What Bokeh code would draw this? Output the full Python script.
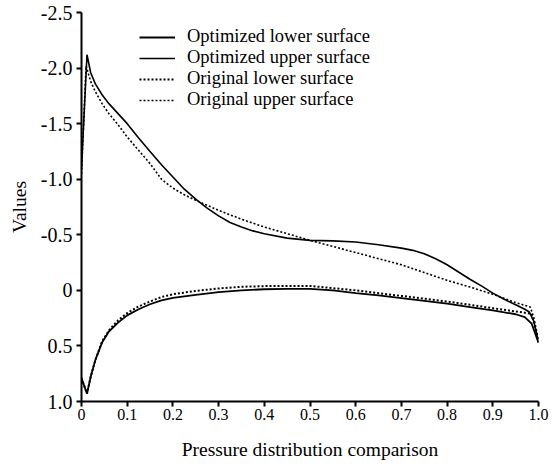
from bokeh.plotting import figure
from bokeh.models import Range1d, FixedTicker, Legend, LegendItem
from bokeh.embed import file_html
from bokeh.resources import INLINE

# Data (x = chord position, v = pressure value; axis inverted)
x_opt_lower = [0, 0.012, 0.02, 0.03, 0.045, 0.06, 0.08, 0.1, 0.125, 0.15, 0.175, 0.2, 0.25, 0.3, 0.35, 0.4, 0.45, 0.5,
               0.55, 0.6, 0.65, 0.7, 0.75, 0.8, 0.85, 0.9, 0.95, 0.97, 0.985, 1.0]
v_opt_lower = [0.79, 0.93, 0.78, 0.63, 0.47, 0.37, 0.29, 0.225, 0.17, 0.125, 0.09, 0.068, 0.04, 0.015, 0.0, -0.01, -0.013, -0.013,
               0.0, 0.025, 0.045, 0.07, 0.095, 0.12, 0.15, 0.18, 0.215, 0.24, 0.3, 0.47]

x_opt_upper = [0, 0.012, 0.02, 0.03, 0.045, 0.06, 0.08, 0.1, 0.125, 0.15, 0.175, 0.2, 0.225, 0.25, 0.275, 0.3, 0.325, 0.35,
               0.375, 0.4, 0.45, 0.5, 0.55, 0.6, 0.65, 0.7, 0.725, 0.75, 0.775, 0.8, 0.825, 0.85, 0.875, 0.9, 0.925, 0.95,
               0.97, 0.98, 0.99, 1.0]
v_opt_upper = [-1.1, -2.12, -1.96, -1.86, -1.76, -1.68, -1.59, -1.50, -1.37, -1.25, -1.13, -1.02, -0.91, -0.82, -0.74, -0.67, -0.61, -0.57,
               -0.535, -0.51, -0.47, -0.45, -0.445, -0.435, -0.41, -0.38, -0.36, -0.33, -0.285, -0.23, -0.165, -0.10, -0.04, 0.025, 0.08, 0.13,
               0.17, 0.195, 0.28, 0.47]

x_orig_lower = [0, 0.012, 0.02, 0.03, 0.045, 0.06, 0.08, 0.1, 0.125, 0.15, 0.175, 0.2, 0.25, 0.3, 0.35, 0.4, 0.45, 0.5,
                0.55, 0.6, 0.65, 0.7, 0.75, 0.8, 0.85, 0.9, 0.95, 0.985, 0.993, 1.0]
v_orig_lower = [0.79, 0.93, 0.78, 0.63, 0.46, 0.36, 0.27, 0.205, 0.145, 0.1, 0.06, 0.035, 0.005, -0.017, -0.032, -0.038, -0.04, -0.04,
                -0.02, 0.0, 0.025, 0.05, 0.075, 0.1, 0.13, 0.16, 0.19, 0.21, 0.35, 0.45]

x_orig_upper = [0, 0.01, 0.02, 0.03, 0.045, 0.06, 0.08, 0.1, 0.125, 0.15, 0.175, 0.2, 0.225, 0.25, 0.3, 0.35, 0.4, 0.45, 0.5,
                0.55, 0.6, 0.65, 0.7, 0.75, 0.8, 0.85, 0.9, 0.95, 0.982, 0.99, 1.0]
v_orig_upper = [-1.05, -2.02, -1.88, -1.79, -1.68, -1.59, -1.49, -1.38, -1.26, -1.14, -1.0, -0.92, -0.86, -0.81, -0.72, -0.64, -0.57, -0.51, -0.45,
                -0.395, -0.34, -0.285, -0.23, -0.16, -0.09, -0.03, 0.035, 0.11, 0.15, 0.25, 0.45]

series_labels = ["Optimized lower surface", "Optimized upper surface", "Original lower surface", "Original upper surface"]

x_ticks = [0, 0.1, 0.2, 0.3, 0.4, 0.5, 0.6, 0.7, 0.8, 0.9, 1.0]
x_tick_labels = ["0", "0.1", "0.2", "0.3", "0.4", "0.5", "0.6", "0.7", "0.8", "0.9", "1.0"]
y_ticks = [-2.5, -2.0, -1.5, -1.0, -0.5, 0, 0.5, 1.0]
y_tick_labels = ["-2.5", "-2.0", "-1.5", "-1.0", "-0.5", "0", "0.5", "1.0"]

FONT = "Liberation Serif"

p = figure(width=552, height=468, output_backend="svg", toolbar_location=None,
           x_range=Range1d(0, 1.0), y_range=Range1d(1.0, -2.5),
           min_border_left=81, min_border_right=14, min_border_top=12, min_border_bottom=67)
p.outline_line_color = None
p.xgrid.visible = False
p.ygrid.visible = False
p.background_fill_color = "white"

r1 = p.line(x_opt_lower, v_opt_lower, line_color="black", line_width=1.8)
r2 = p.line(x_opt_upper, v_opt_upper, line_color="black", line_width=1.6)
r3 = p.line(x_orig_lower, v_orig_lower, line_color="black", line_width=2, line_dash="2 2")
r4 = p.line(x_orig_upper, v_orig_upper, line_color="black", line_width=1.6, line_dash="2 2")

for ax in (p.xaxis[0], p.yaxis[0]):
    ax.axis_line_width = 2
    ax.axis_line_color = "black"
    ax.major_tick_line_width = 2
    ax.major_tick_line_color = "black"
    ax.major_tick_out = 5
    ax.major_tick_in = 0
    ax.minor_tick_line_color = None
    ax.major_label_text_color = "black"
    ax.major_label_text_font = FONT
    ax.axis_label_text_font = FONT
    ax.axis_label_text_font_size = "19.5px"
    ax.axis_label_text_font_style = "normal"
    ax.axis_label_text_color = "black"

p.xaxis.major_label_text_font_size = "16px"
p.yaxis.major_label_text_font_size = "20px"
p.xaxis.ticker = FixedTicker(ticks=x_ticks)
p.xaxis.major_label_overrides = {t: l for t, l in zip(x_ticks, x_tick_labels)}
p.yaxis.ticker = FixedTicker(ticks=y_ticks)
p.yaxis.major_label_overrides = {t: l for t, l in zip(y_ticks, y_tick_labels)}
p.xaxis.axis_label = "Pressure distribution comparison"
p.yaxis.axis_label = "Values"
p.xaxis.major_label_standoff = 2
p.yaxis.major_label_standoff = 4
p.xaxis.axis_label_standoff = 16
p.yaxis.axis_label_standoff = 8

# one legend per row so rows sit as tightly as in the reference
row_offsets = [354, 333, 312, 291]
for lab, rend, off in zip(series_labels, [r1, r2, r3, r4], row_offsets):
    lg = Legend(items=[LegendItem(label=lab, renderers=[rend])], location=(58, off))
    lg.border_line_color = None
    lg.background_fill_alpha = 0
    lg.padding = 0
    lg.margin = 0
    lg.spacing = 0
    lg.glyph_width = 36
    lg.glyph_height = 20
    lg.label_height = 20
    lg.label_standoff = 12
    lg.label_text_font = FONT
    lg.label_text_font_size = "18.5px"
    lg.label_text_color = "black"
    p.add_layout(lg)

open("out.html", "w").write(file_html(p, INLINE))
